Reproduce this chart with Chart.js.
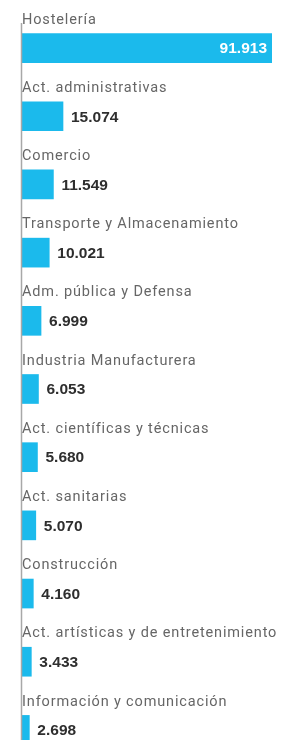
<!DOCTYPE html>
<html>
<head>
<meta charset="utf-8">
<script src="https://cdn.jsdelivr.net/npm/chart.js@4/dist/chart.umd.min.js"></script>
<style>
html,body{margin:0;padding:0;background:#fff;overflow:hidden;}
#wrap{width:290px;height:740px;overflow:hidden;position:relative;}
canvas{display:block;}
</style>
</head>
<body>
<div id="wrap"><canvas id="c" width="290" height="770"></canvas></div>
<script>
const categories = [
  "Hostelería",
  "Act. administrativas",
  "Comercio",
  "Transporte y Almacenamiento",
  "Adm. pública y Defensa",
  "Industria Manufacturera",
  "Act. científicas y técnicas",
  "Act. sanitarias",
  "Construcción",
  "Act. artísticas y de entretenimiento",
  "Información y comunicación"
];
const values = [91913, 15074, 11549, 10021, 6999, 6053, 5680, 5070, 4160, 3433, 2698];
const valueLabels = ["91.913","15.074","11.549","10.021","6.999","6.053","5.680","5.070","4.160","3.433","2.698"];

const barColor = "#1bbaec";

const labelPlugin = {
  id: "rowLabels",
  afterDatasetsDraw(chart) {
    const ctx = chart.ctx;
    const meta = chart.getDatasetMeta(0);
    const area = chart.chartArea;
    ctx.save();
    ctx.strokeStyle = "#a8a8a8";
    ctx.lineWidth = 1.5;
    ctx.beginPath();
    ctx.moveTo(area.left - 0.5, 23);
    ctx.lineTo(area.left - 0.5, chart.height);
    ctx.stroke();
    meta.data.forEach((bar, i) => {
      ctx.font = "400 14.5px Roboto, 'Liberation Sans', sans-serif";
      ctx.letterSpacing = "0.85px";
      ctx.fillStyle = "#666666";
      ctx.textAlign = "left";
      ctx.textBaseline = "middle";
      ctx.fillText(categories[i], area.left, bar.y - 28);
      ctx.letterSpacing = "0px";
      ctx.font = "700 15.5px 'Liberation Sans', Arial, sans-serif";
      if (i === 0) {
        ctx.fillStyle = "#ffffff";
        ctx.textAlign = "right";
        ctx.fillText(valueLabels[i], bar.x - 5, bar.y + 1);
      } else {
        ctx.fillStyle = "#2e2e2e";
        ctx.textAlign = "left";
        ctx.fillText(valueLabels[i], bar.x + 8, bar.y + 1);
      }
    });
    ctx.restore();
  }
};

new Chart(document.getElementById("c"), {
  type: "bar",
  data: {
    labels: categories,
    datasets: [{
      data: values,
      backgroundColor: barColor,
      borderWidth: 0,
      barThickness: 29
    }]
  },
  options: {
    indexAxis: "y",
    responsive: false,
    animation: false,
    layout: { padding: { left: 22, right: 18, top: 14, bottom: 6 } },
    plugins: { legend: { display: false }, tooltip: { enabled: false } },
    scales: {
      x: { display: false, min: 0, max: 91913 },
      y: { display: false, offset: true }
    }
  },
  plugins: [labelPlugin]
});
</script>
</body>
</html>
